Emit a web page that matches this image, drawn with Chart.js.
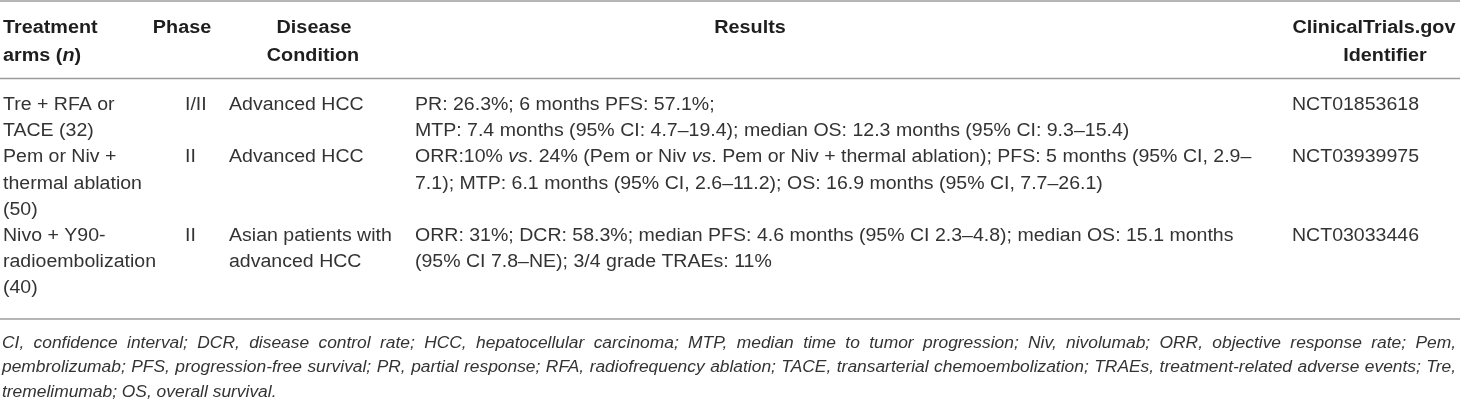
<!DOCTYPE html>
<html><head><meta charset="utf-8">
<script src="https://cdn.jsdelivr.net/npm/chart.js@4/dist/chart.umd.min.js"></script>
<style>html,body{margin:0;padding:0;background:#fff;overflow:hidden}</style>
</head>
<body>
<div style="width:1460px;height:401px;position:relative"><canvas id="c"></canvas></div>
<script>
// ---- table content ----
const headers = [["Treatment", "arms (*n*)"], ["Phase"], ["Disease", "Condition"], ["Results"], ["ClinicalTrials.gov", "Identifier"]];
const arms = [["Tre + RFA or", "TACE (32)"], ["Pem or Niv +", "thermal ablation", "(50)"], ["Nivo + Y90-", "radioembolization", "(40)"]];
const phases = ["I/II", "II", "II"];
const conditions = [["Advanced HCC"], ["Advanced HCC"], ["Asian patients with", "advanced HCC"]];
const results = [
  ["PR: 26.3%; 6 months PFS: 57.1%;", "MTP: 7.4 months (95% CI: 4.7–19.4); median OS: 12.3 months (95% CI: 9.3–15.4)"],
  ["ORR:10% *vs*. 24% (Pem or Niv *vs*. Pem or Niv + thermal ablation); PFS: 5 months (95% CI, 2.9–", "7.1); MTP: 6.1 months (95% CI, 2.6–11.2); OS: 16.9 months (95% CI, 7.7–26.1)"],
  ["ORR: 31%; DCR: 58.3%; median PFS: 4.6 months (95% CI 2.3–4.8); median OS: 15.1 months", "(95% CI 7.8–NE); 3/4 grade TRAEs: 11%"]
];
const identifiers = ["NCT01853618", "NCT03939975", "NCT03033446"];
const footnote = [
  "CI, confidence interval; DCR, disease control rate; HCC, hepatocellular carcinoma; MTP, median time to tumor progression; Niv, nivolumab; ORR, objective response rate; Pem,",
  "pembrolizumab; PFS, progression-free survival; PR, partial response; RFA, radiofrequency ablation; TACE, transarterial chemoembolization; TRAEs, treatment-related adverse events; Tre,",
  "tremelimumab; OS, overall survival."
];

// ---- drawing ----
const FAMILY = '"Liberation Sans", Arial, sans-serif';
const SIZE = 18;
const BODY_HS = 1.085;   // horizontal stretch to mimic the wider reference face
const HEAD_HS = 1.1;
const FOOT_SIZE = 17.4;
const TEXT = '#333333';
const HEAD = '#1e1e1e';
const RULE = '#9c9c9c';

function fontFor(bold, italic, size) {
  return (italic ? 'italic ' : '') + (bold ? 'bold ' : '') + (size || SIZE) + 'px ' + FAMILY;
}
function segments(str) {
  return str.split('*').map((t, i) => ({ t, it: i % 2 === 1 })).filter(s => s.t.length);
}
function richWidth(ctx, str, bold) {
  let w = 0;
  segments(str).forEach(s => { ctx.font = fontFor(bold, s.it); w += ctx.measureText(s.t).width; });
  return w;
}
function drawRich(ctx, str, x, y, align, bold, hs) {
  const w = richWidth(ctx, str, bold) * hs;
  const left = align === 'center' ? x - w / 2 : (align === 'right' ? x - w : x);
  ctx.save();
  ctx.translate(left, y);
  ctx.scale(hs, 1);
  let cx = 0;
  segments(str).forEach(s => {
    ctx.font = fontFor(bold, s.it);
    ctx.fillText(s.t, cx, 0);
    cx += ctx.measureText(s.t).width;
  });
  ctx.restore();
}
function drawJustified(ctx, str, x0, x1, y) {
  ctx.font = fontFor(false, true, FOOT_SIZE);
  const target = x1 - x0;
  const natural = ctx.measureText(str).width;
  if (natural >= target) {
    ctx.save();
    ctx.translate(x0, y);
    ctx.scale(target / natural, 1);
    ctx.fillText(str, 0, 0);
    ctx.restore();
    return;
  }
  const words = str.split(' ');
  const ws = words.map(w => ctx.measureText(w).width);
  const sum = ws.reduce((a, b) => a + b, 0);
  const gap = (target - sum) / (words.length - 1);
  let cx = x0;
  words.forEach((w, i) => { ctx.fillText(w, cx, y); cx += ws[i] + gap; });
}

const tablePlugin = {
  id: 'tablePlugin',
  afterDraw(chart) {
    const ctx = chart.ctx;
    const W = chart.width;
    ctx.save();
    ctx.fillStyle = '#fff';
    ctx.fillRect(0, 0, W, chart.height);
    // rules
    ctx.strokeStyle = RULE;
    ctx.lineWidth = 1.6;
    [1, 78.5, 319].forEach(y => { ctx.beginPath(); ctx.moveTo(0, y); ctx.lineTo(W, y); ctx.stroke(); });

    ctx.textBaseline = 'alphabetic';
    // header
    ctx.fillStyle = HEAD;
    const hx = [[[3, 'left'], [3, 'left']], [[182, 'center']], [[314, 'center'], [313, 'center']], [[750, 'center']], [[1374, 'center'], [1385, 'center']]];
    headers.forEach((lines, c) => {
      lines.forEach((ln, i) => drawRich(ctx, ln, hx[c][i][0], 33 + i * 28, hx[c][i][1], true, HEAD_HS));
    });
    // body
    ctx.fillStyle = TEXT;
    const LH = 26.2;
    const BASE = 110;
    const rowLine = [0, 2, 5];
    for (let r = 0; r < arms.length; r++) {
      const y0 = BASE + rowLine[r] * LH;
      arms[r].forEach((ln, i) => drawRich(ctx, ln, 3, y0 + i * LH, 'left', false, BODY_HS));
      drawRich(ctx, phases[r], 185, y0, 'left', false, BODY_HS);
      conditions[r].forEach((ln, i) => drawRich(ctx, ln, 229, y0 + i * LH, 'left', false, BODY_HS));
      results[r].forEach((ln, i) => drawRich(ctx, ln, 415, y0 + i * LH, 'left', false, BODY_HS));
      drawRich(ctx, identifiers[r], 1292, y0, 'left', false, BODY_HS);
    }
    // footnote
    const fy = [347.5, 372, 396.5];
    drawJustified(ctx, footnote[0], 2, 1456, fy[0]);
    drawJustified(ctx, footnote[1], 2, 1456, fy[1]);
    ctx.font = fontFor(false, true, FOOT_SIZE);
    ctx.fillText(footnote[2], 2, fy[2]);
    ctx.restore();
  }
};

new Chart(document.getElementById('c'), {
  type: 'bar',
  data: { labels: [], datasets: [] },
  options: {
    responsive: true,
    maintainAspectRatio: false,
    animation: false,
    events: [],
    layout: { padding: 0 },
    plugins: { legend: { display: false }, tooltip: { enabled: false }, title: { display: false } },
    scales: { x: { display: false }, y: { display: false } }
  },
  plugins: [tablePlugin]
});
</script>
</body></html>
